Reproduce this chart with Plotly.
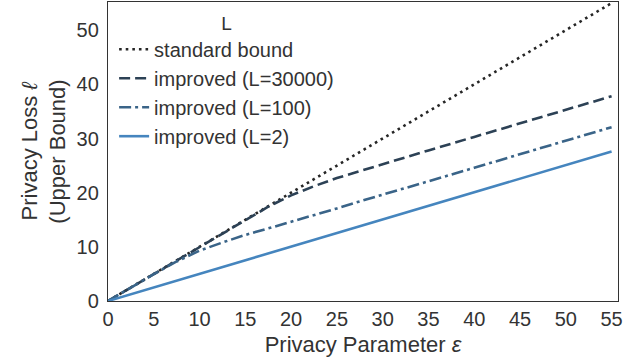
import plotly.graph_objects as go

eps = [0, 2.5, 5, 7.5, 10, 12.5, 15, 17.5, 20, 22.5, 25, 27.5, 30, 35, 40, 45, 50, 55]
standard = [0, 2.5, 5, 7.5, 10, 12.5, 15, 17.5, 20, 22.5, 25, 27.5, 30, 35, 40, 45, 50, 55]
l30000 = [0, 2.5, 5, 7.5, 10, 12.5, 15.0, 17.4, 19.5, 21.2, 22.7, 24.0, 25.3, 27.8, 30.3, 32.8, 35.3, 37.8]
l100 = [0, 2.5, 4.95, 7.3, 9.3, 10.8, 12.2, 13.4, 14.6, 15.9, 17.1, 18.4, 19.6, 22.1, 24.6, 27.1, 29.6, 32.1]
l2 = [0, 1.25, 2.5, 3.75, 5.0, 6.25, 7.5, 8.75, 10.0, 11.25, 12.5, 13.75, 15.0, 17.5, 20.0, 22.5, 25.0, 27.6]

names = ["standard bound", "improved (L=30000)", "improved (L=100)", "improved (L=2)"]
series = [standard, l30000, l100, l2]
colors = ["#262626", "#2c4155", "#3a6488", "#4585be"]
dashes = ["2.6px,4px", "11px,5px", "12px,4px,3px,4px", "solid"]

fig = go.Figure()
for n, s, c, d in zip(names, series, colors, dashes):
    fig.add_trace(go.Scatter(x=eps, y=s, mode="lines", name=n,
                             line=dict(color=c, dash=d, width=2.6)))

FONT = "Liberation Sans, Arial"
axis_common = dict(showgrid=False, zeroline=False, showline=True, mirror=True,
                   linecolor="#333333", linewidth=1.3, ticks="",
                   tickfont=dict(size=20, color="#333333", family=FONT))

fig.update_layout(
    width=626, height=362,
    margin=dict(l=108, r=8, t=2, b=61),
    plot_bgcolor="white", paper_bgcolor="white",
    font=dict(family=FONT, color="#333333"),
    xaxis=dict(range=[0, 55.7], dtick=5, tick0=0,
               title=dict(text="Privacy Parameter <i>ε</i>", font=dict(size=22), standoff=7),
               **axis_common),
    yaxis=dict(range=[0, 55.2], dtick=10, tick0=0, ticklabelstandoff=4,
               title=dict(text="Privacy Loss <i>ℓ</i><br>(Upper Bound)", font=dict(size=22), standoff=4),
               **axis_common),
    legend=dict(x=0.012, y=0.99, xanchor="left", yanchor="top",
                bgcolor="rgba(255,255,255,0)", font=dict(size=20, color="#333333"),
                title=dict(text="L", side="top center", font=dict(size=19)),
                tracegroupgap=0, itemwidth=30),
    showlegend=True,
)

fig.write_html("out.html")
